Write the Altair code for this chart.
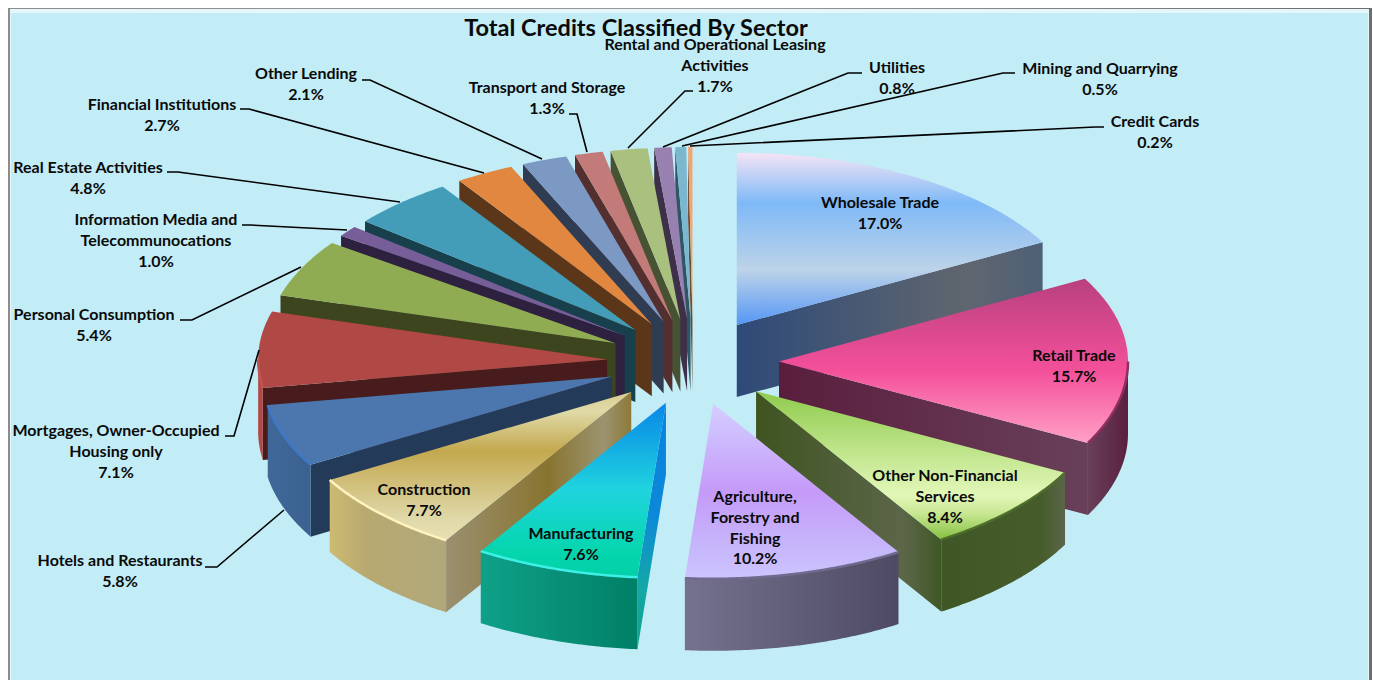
import math
import altair as alt
import pandas as pd

# Sector shares, clockwise from twelve o'clock
sectors = ["Wholesale Trade", "Retail Trade", "Other Non-Financial\nServices",
           "Agriculture,\nForestry and\nFishing", "Manufacturing", "Construction",
           "Hotels and Restaurants", "Mortgages, Owner-Occupied\nHousing only",
           "Personal Consumption", "Information Media and\nTelecommunocations",
           "Real Estate Activities", "Financial Institutions", "Other Lending",
           "Transport and Storage", "Rental and Operational Leasing\nActivities",
           "Utilities", "Mining and Quarrying", "Credit Cards"]
shares = [17.0, 15.7, 8.4, 10.2, 7.6, 7.7, 5.8, 7.1, 5.4, 1.0, 4.8, 2.7, 2.1, 1.3, 1.7, 0.8, 0.5, 0.2]

# Label anchor of each sector (centre x, first line y)
label_x = [880, 1074, 945, 755, 581, 424, 120, 116, 94, 156, 88, 162, 306, 547, 715, 897, 1100, 1155]
label_y = [203, 356, 476, 497, 534, 490, 561, 431, 315, 220, 168, 105, 74, 88, 45, 68, 69, 122]

# Leader lines: elbow start, elbow end, tip on the slice
leaders = {
    6: [(205, 567), (217, 567), (284, 510)],
    7: [(225, 436), (234, 436), (259, 350)],
    8: [(180, 320), (192, 320), (301, 267)],
    9: [(242, 225), (250, 225), (347, 230)],
    10: [(167, 172), (178, 172), (400, 202)],
    11: [(240, 109), (249, 109), (484, 173)],
    12: [(362, 80), (370, 80), (542, 159)],
    13: [(569, 114), (577, 114), (587, 152)],
    14: [(693, 91), (685, 91), (628, 148)],
    15: [(862, 73), (848, 73), (663, 147)],
    16: [(1015, 73), (1003, 73), (682, 146)],
    17: [(1104, 127), (1095, 127), (690, 146)],
}


def vgrad(*stops):
    return {"gradient": "linear", "x1": 0, "y1": 0, "x2": 0, "y2": 1,
            "stops": [{"offset": o, "color": c} for o, c in stops]}


def hgrad(*stops):
    return {"gradient": "linear", "x1": 0, "y1": 0, "x2": 1, "y2": 0,
            "stops": [{"offset": o, "color": c} for o, c in stops]}


# Surface, cut-face, outer wall and rim colours per sector
top_fill = [
    vgrad((0, "#F5E4F6"), (0.29, "#7FB9F7"), (0.68, "#BDD3E8"), (1, "#5596F6")),
    vgrad((0, "#B8407F"), (0.56, "#F4509A"), (1, "#FFA0C6")),
    vgrad((0, "#8FCB4D"), (0.70, "#E2F7B8"), (0.82, "#C8E894"), (1, "#86C040")),
    vgrad((0, "#D6CCFF"), (0.15, "#CFC0FE"), (0.5, "#C59AF8"), (0.8, "#C6B4FB"), (1, "#CDC4FE")),
    vgrad((0, "#0886E8"), (0.5, "#1FD4DE"), (0.85, "#05D6AE"), (1, "#03D0A8")),
    vgrad((0, "#D8CC90"), (0.13, "#E0DAA8"), (0.4, "#C3A84F"), (0.85, "#DFD8A8"), (1, "#E8E0B0")),
    "#4B77AE", "#B04846", "#8FAC52", "#785E98", "#439DB8", "#E28740",
    "#7C99C4", "#C27B78", "#A9C07E", "#9880B0", "#7CB7D0", "#F3A470",
]
face_fill = [
    hgrad((0, "#2E4A78"), (0.75, "#60666F"), (1, "#4E6076")),
    hgrad((0, "#5A1E3D"), (1, "#68405A")),
    hgrad((0, "#3E5420"), (0.8, "#5C6649"), (1, "#3F5725")),
    "#5C5A78",
    vgrad((0, "#0A82E0"), (0.45, "#0C88D8"), (0.75, "#14A8A8"), (1, "#0FA088")),
    hgrad((0, "#9B9070"), (0.55, "#887430"), (0.85, "#9C9470"), (1, "#8E7A38")),
    "#233A59", "#481C1C", "#3D451E", "#2E203F", "#183F4C", "#5B3618",
    "#2F3C52", "#532F2F", "#475233", "#3D3048", "#2E5766", "#6E4A30",
]
wall_fill = [
    "#4E6076",
    hgrad((0, "#68405A"), (1, "#5A2040")),
    hgrad((0, "#3F5725"), (0.8, "#465C2B"), (1, "#5A6548")),
    hgrad((0, "#74728E"), (1, "#4E4A63")),
    hgrad((0, "#0FA088"), (1, "#008066")),
    hgrad((0, "#CDBB72"), (0.3, "#B8A96F"), (1, "#B0A87C")),
    hgrad((0, "#3F6898"), (1, "#3B6190")),
    "#B04846", "#8FAC52", "#785E98", "#439DB8", "#E28740",
    "#7C99C4", "#C27B78", "#A9C07E", "#9880B0", "#7CB7D0", "#F3A470",
]
rim_color = ["#9DB9DC", "#8E2F5F", "#4F6E2C", "#6F6A8E", "#3DF0E6", "#FFF2BE",
             "#3E78C8", "#C45450", "#A2BE62", "#8C70AC", "#55B0CA", "#EE9A52",
             "#8CA8D0", "#CE8C88", "#B8CE90", "#A890C0", "#8CC6DE", "#F8B888"]

# Exploded, tilted pie model; the far half is foreshortened slightly more
CX, CY = 693, 362
RX = 349
RY_BACK, RY_FRONT = 172, 175
EXPLODE_X, EXPLODE_Y = 86, 43
DEPTH = 72
# Back slices are painted first, then the two halves run toward the viewer
PAINT_ORDER = [17, 16, 15, 14, 13, 12, 11, 10, 9, 8, 7, 6, 5, 4, 0, 1, 2, 3]


def polygon(points):
    ring = [list(p) for p in points] + [list(points[0])]
    return {"type": "Feature", "properties": {}, "geometry": {"type": "Polygon", "coordinates": [ring]}}


def polyline(points):
    return {"type": "Feature", "properties": {},
            "geometry": {"type": "LineString", "coordinates": [list(p) for p in points]}}


def slice_parts(a, b):
    mid = (a + b) / 2
    ox = CX + EXPLODE_X * math.sin(mid)
    oy = CY - EXPLODE_Y * math.cos(mid)

    def rim(t, drop=0.0):
        c = math.cos(t)
        return (ox + RX * math.sin(t), oy - (RY_BACK if c > 0 else RY_FRONT) * c + drop)

    def arc(t0, t1, drop=0.0):
        n = max(2, int(abs(t1 - t0) / 0.01))
        return [rim(t0 + (t1 - t0) * i / n, drop) for i in range(n + 1)]

    parts = {"top": polygon([(ox, oy)] + arc(a, b))}
    faces = []
    if a > math.pi:
        faces.append(polygon([(ox, oy), rim(a), rim(a, DEPTH), (ox, oy + DEPTH)]))
    if b < math.pi:
        faces.append(polygon([(ox, oy), rim(b), rim(b, DEPTH), (ox, oy + DEPTH)]))
    parts["faces"] = faces
    w0, w1 = max(a, math.pi / 2), min(b, 3 * math.pi / 2)
    parts["wall"] = polygon(arc(w0, w1) + arc(w1, w0, DEPTH)) if w1 > w0 else None
    parts["rim"] = polyline(arc(w0, w1)) if w1 > w0 else None
    return parts


def shape(feature, **mark):
    return alt.Chart(alt.Data(values=[feature])).mark_geoshape(**mark).project(
        type="identity", scale=1, translate=[0, 0])


layers = []

# Panel frame
frame = [
    ((8, 8, 1372, 680), hgrad((0, "#8C8C8C"), (0.5, "#9A9A9A"), (1, "#6E6E6E"))),
    ((10, 9, 1369, 680), "#E6F7FB"),
    ((11, 13, 1368, 680), "#C2ECF6"),
]
for (x0, y0, x1, y1), fill in frame:
    layers.append(alt.Chart(alt.Data(values=[{"k": 0}])).mark_rect(fill=fill).encode(
        x=alt.value(x0), x2=alt.value(x1), y=alt.value(y0), y2=alt.value(y1)))

# Pie slices
total = sum(shares)
edges = [0.0]
for v in shares:
    edges.append(edges[-1] + v / total * 2 * math.pi)

for i in PAINT_ORDER:
    parts = slice_parts(edges[i], edges[i + 1])
    for f in parts["faces"]:
        layers.append(shape(f, fill=face_fill[i], strokeWidth=0))
    if parts["wall"]:
        layers.append(shape(parts["wall"], fill=wall_fill[i], strokeWidth=0))
    layers.append(shape(parts["top"], fill=top_fill[i], strokeWidth=0))
    if parts["rim"]:
        layers.append(shape(parts["rim"], filled=False, stroke=rim_color[i], strokeWidth=2.5))

# Leader lines
rows = []
for idx, pts in leaders.items():
    for order, (x, y) in enumerate(pts):
        rows.append({"sector": idx, "order": order, "x": x, "y": y})
layers.append(alt.Chart(pd.DataFrame(rows)).mark_line(color="#000000", strokeWidth=1.6).encode(
    x=alt.X("x:Q", scale=None, axis=None),
    y=alt.Y("y:Q", scale=None, axis=None),
    detail="sector:N",
    order="order:O",
))

# Sector labels
labels = pd.DataFrame({
    "text": [f"{s}\n{v:.1f}%" for s, v in zip(sectors, shares)],
    "x": label_x,
    "y": label_y,
})
layers.append(alt.Chart(labels).mark_text(
    font="Lato", fontWeight="bold", fontSize=16, color="#0A0A0A",
    align="center", baseline="middle", lineBreak="\n", lineHeight=20.8,
).encode(
    x=alt.X("x:Q", scale=None, axis=None),
    y=alt.Y("y:Q", scale=None, axis=None),
    text="text:N",
))

# Chart title
layers.append(alt.Chart(pd.DataFrame({"t": ["Total Credits Classified By Sector"], "x": [636], "y": [29]})).mark_text(
    font="Lato", fontWeight="bold", fontSize=23.5, color="#0A0A0A", align="center", baseline="middle",
).encode(
    x=alt.X("x:Q", scale=None, axis=None),
    y=alt.Y("y:Q", scale=None, axis=None),
    text="t:N",
))

chart = alt.layer(*layers).properties(
    width=1373, height=680, padding=0, background="#FFFFFF",
    autosize=alt.AutoSizeParams(type="none"),
).configure_view(strokeWidth=0)

chart.save("out.html", embed_options={"renderer": "svg", "actions": False})
